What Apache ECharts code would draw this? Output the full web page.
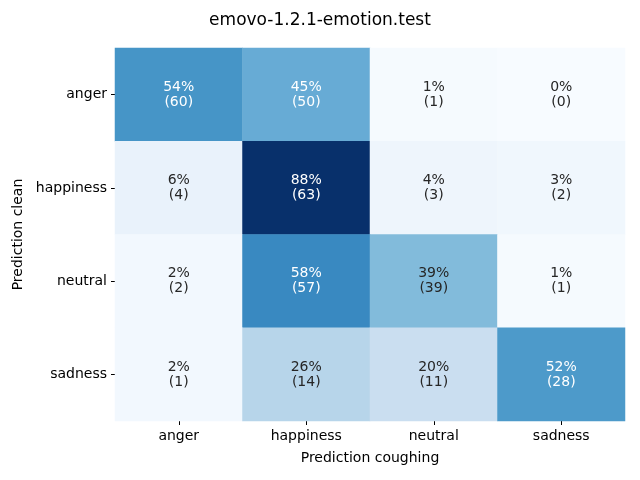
<!DOCTYPE html>
<html>
<head>
<meta charset="utf-8">
<script src="https://cdn.jsdelivr.net/npm/echarts@6/dist/echarts.min.js"></script>
<style>
  html, body { margin: 0; padding: 0; background: #fff; }
  #chart { width: 640px; height: 480px; }
</style>
</head>
<body>
<div id="chart"></div>
<script>
// labels for both axes
const labels = ['anger', 'happiness', 'neutral', 'sadness']

// row = clean prediction, col = coughing prediction
const percents = [
  [54, 45, 1, 0],
  [6, 88, 4, 3],
  [2, 58, 39, 1],
  [2, 26, 20, 52]
]
const counts = [
  [60, 50, 1, 0],
  [4, 63, 3, 2],
  [2, 57, 39, 1],
  [1, 14, 11, 28]
]

// matplotlib Blues
const blues = ['#f7fbff', '#deebf7', '#c6dbef', '#9ecae1', '#6baed6', '#4292c6', '#2171b5', '#08519c', '#08306b']

const cells = []
percents.forEach((row, r) => {
  row.forEach((p, c) => {
    cells.push({
      value: [c, r, p, counts[r][c]],
      label: { color: p > 42 ? '#ffffff' : '#262626' }
    })
  })
})

const chart = echarts.init(document.getElementById('chart'))
chart.setOption({
  animation: false,
  textStyle: { fontFamily: 'DejaVu Sans' },
  title: {
    text: 'emovo-1.2.1-emotion.test',
    left: 'center',
    top: 7,
    textStyle: { fontSize: 17, fontWeight: 'normal', color: '#000', fontFamily: 'DejaVu Sans' }
  },
  grid: { left: 115, right: 15, top: 48, bottom: 59 },
  xAxis: {
    type: 'category',
    data: labels,
    name: 'Prediction coughing',
    nameLocation: 'middle',
    nameGap: 30,
    nameTextStyle: { fontSize: 14, color: '#000' },
    splitArea: { show: false },
    axisLine: { show: false },
    axisTick: { show: true, alignWithLabel: true, length: 4, lineStyle: { color: '#000' } },
    axisLabel: { fontSize: 14, color: '#000', margin: 8 }
  },
  yAxis: {
    type: 'category',
    data: labels,
    inverse: true,
    name: 'Prediction clean',
    nameLocation: 'middle',
    nameGap: 83,
    nameTextStyle: { fontSize: 14, color: '#000' },
    axisLine: { show: false },
    axisTick: { show: true, alignWithLabel: true, length: 4, lineStyle: { color: '#000' } },
    axisLabel: { fontSize: 14, color: '#000', margin: 8 }
  },
  visualMap: {
    show: false,
    min: 0,
    max: 88,
    dimension: 2,
    inRange: { color: blues }
  },
  series: [{
    type: 'heatmap',
    data: cells,
    label: {
      show: true,
      fontSize: 14,
      lineHeight: 15,
      formatter: p => p.value[2] + '%\n(' + p.value[3] + ')'
    },
    emphasis: { disabled: true }
  }]
})
</script>
</body>
</html>
